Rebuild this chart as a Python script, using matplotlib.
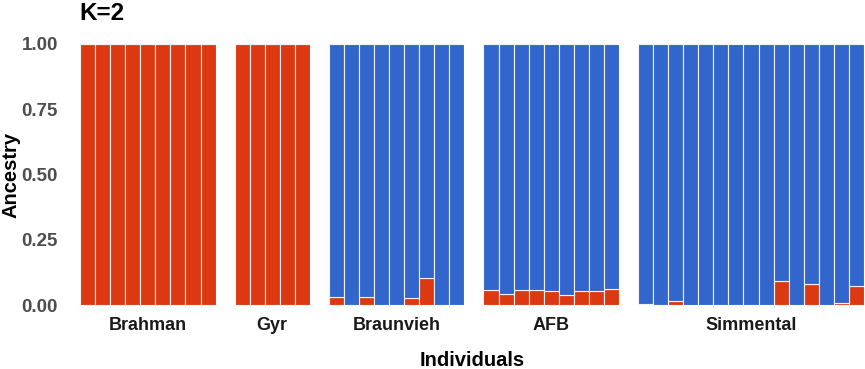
import matplotlib
matplotlib.use("Agg")
import matplotlib.pyplot as plt
import numpy as np

plt.rcParams['font.family'] = ['Liberation Sans', 'DejaVu Sans']

breeds = ["Brahman", "Gyr", "Braunvieh", "AFB", "Simmental"]
# Proportion of red cluster (bottom) per individual
red_brahman = [1.0] * 9
red_gyr = [1.0] * 5
red_braunvieh = [0.029, 0.0, 0.032, 0.0, 0.0, 0.026, 0.102, 0.0, 0.0]
red_afb = [0.057, 0.043, 0.057, 0.057, 0.054, 0.038, 0.055, 0.055, 0.061]
red_simmental = [0.002, 0.0, 0.015, 0.0, 0.0, 0.0, 0.0, 0.0, 0.0, 0.093, 0.0, 0.079, 0.0, 0.009, 0.073]
red_values = [red_brahman, red_gyr, red_braunvieh, red_afb, red_simmental]

yticks = [0.0, 0.25, 0.5, 0.75, 1.0]
ytick_labels = ["0.00", "0.25", "0.50", "0.75", "1.00"]

RED = "#DC3912"
BLUE = "#3366CC"

W, H = 865, 369
fig = plt.figure(figsize=(W / 100, H / 100), dpi=100)

left_px, right_px = 80, 864
top_px, bottom_px = 44, 305
gap_px = 19
counts = [len(v) for v in red_values]
bar_px = (right_px - left_px - gap_px * (len(counts) - 1)) / sum(counts)

x0 = left_px
for i, (name, reds) in enumerate(zip(breeds, red_values)):
    n = len(reds)
    w = n * bar_px
    ax = fig.add_axes([x0 / W, 1 - bottom_px / H, w / W, (bottom_px - top_px) / H])
    reds = np.array(reds)
    blues = 1 - reds
    xs = np.arange(n)
    ax.bar(xs, reds, width=1.0, color=RED, edgecolor="#F2F2F2", linewidth=0.8)
    ax.bar(xs, blues, bottom=reds, width=1.0, color=BLUE, edgecolor="#F2F2F2", linewidth=0.8)
    ax.set_xlim(-0.5, n - 0.5)
    ax.set_ylim(0, 1)
    for s in ax.spines.values():
        s.set_visible(False)
    ax.set_xticks([])
    if i == 0:
        ax.set_yticks(yticks)
        ax.set_yticklabels(ytick_labels, fontsize=13.5, fontweight="bold", color="#4D4D4D")
        ax.tick_params(axis="y", length=0, pad=16)
    else:
        ax.set_yticks([])
    fig.text((x0 + w / 2) / W, 1 - 325 / H, name, ha="center", va="center",
             fontsize=13, fontweight="bold", color="#1A1A1A")
    x0 += w + gap_px

fig.text((left_px + right_px) / 2 / W, 1 - 360 / H, "Individuals", ha="center", va="center",
         fontsize=14.5, fontweight="bold", color="black")
fig.text(11 / W, 1 - 175 / H, "Ancestry", ha="center", va="center", rotation=90,
         fontsize=14.5, fontweight="bold", color="black")
fig.text(79 / W, 1 - 14 / H, "K=2", ha="left", va="center",
         fontsize=17.5, fontweight="bold", color="black")

fig.savefig("out.png", dpi=100)
